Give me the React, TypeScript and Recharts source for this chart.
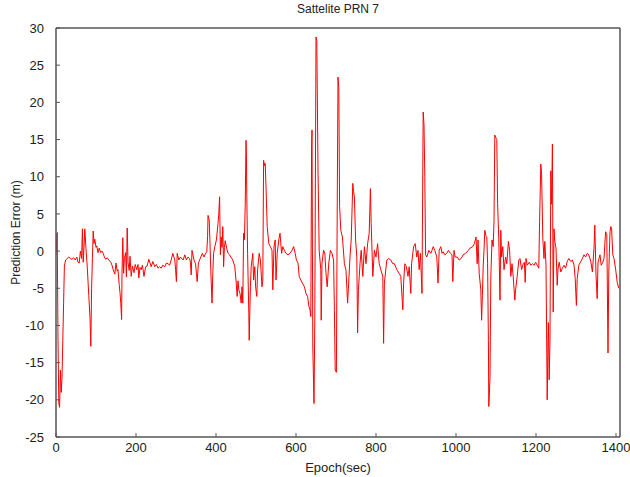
import { Label, Line, LineChart, XAxis, YAxis } from 'recharts'

// epoch (sec) and prediction error (m)
const epochs = [
  0, 3, 5, 7, 9, 11, 13, 15, 17, 19, 21, 24, 28, 32, 36, 40, 44, 48, 52, 55, 58, 61, 64, 66, 68, 70, 72, 75, 78, 82, 85, 87, 89, 91, 93, 95, 97,
  100, 102, 105, 108, 112, 115, 118, 121, 124, 128, 132, 137, 140, 143, 147, 150, 153, 155, 158, 160, 162, 164, 165, 167, 169, 171, 174, 176,
  178, 180, 183, 185, 188, 191, 195, 198, 202, 205, 207, 210, 213, 216, 220, 224, 228, 232, 235, 238, 242, 247, 251, 255, 259, 263, 267, 272,
  276, 280, 284, 288, 292, 297, 299, 301, 303, 307, 311, 318, 322, 326, 330, 334, 336, 338, 340, 345, 349, 351, 353, 356, 362, 366, 370, 374,
  377, 379, 380, 383, 385, 387, 390, 392, 394, 397, 401, 405, 407, 409, 411, 413, 415, 417, 419, 421, 423, 427, 430, 434, 437, 442, 447, 450,
  453, 455, 457, 460, 463, 465, 467, 469, 471, 473, 475, 476, 477, 479, 482, 483, 486, 488, 492, 494, 497, 499, 502, 504, 508, 511, 515, 517,
  519, 521, 523, 525, 528, 532, 536, 540, 542, 545, 548, 550, 553, 557, 560, 564, 567, 571, 575, 580, 585, 590, 594, 598, 601, 605, 608, 612,
  616, 621, 625, 629, 632, 635, 637, 639, 640, 642, 645, 647, 650, 652, 655, 658, 662, 663, 665, 669, 672, 675, 678, 682, 686, 690, 694, 696,
  698, 701, 703, 705, 707, 709, 712, 716, 721, 725, 729, 731, 735, 738, 742, 744, 746, 749, 752, 754, 756, 760, 763, 767, 771, 775, 779, 783,
  786, 788, 792, 796, 800, 804, 808, 812, 817, 819, 821, 827, 832, 837, 842, 846, 852, 858, 862, 867, 869, 872, 876, 880, 883, 887, 889, 894,
  898, 902, 905, 908, 911, 913, 915, 917, 918, 920, 922, 924, 927, 932, 937, 940, 943, 947, 952, 955, 958, 962, 965, 968, 972, 977, 981, 986,
  990, 992, 995, 998, 1003, 1008, 1013, 1018, 1024, 1031, 1035, 1042, 1046, 1050, 1053, 1055, 1058, 1062, 1064, 1066, 1068, 1070, 1072, 1075,
  1077, 1079, 1081, 1082, 1085, 1087, 1090, 1093, 1095, 1097, 1100, 1102, 1104, 1107, 1110, 1112, 1114, 1117, 1120, 1124, 1127, 1131, 1134,
  1137, 1140, 1143, 1147, 1149, 1153, 1157, 1160, 1164, 1168, 1171, 1173, 1175, 1178, 1183, 1187, 1191, 1195, 1199, 1203, 1207, 1209, 1212,
  1214, 1217, 1220, 1222, 1225, 1228, 1230, 1231, 1233, 1235, 1237, 1239, 1241, 1243, 1245, 1247, 1250, 1253, 1255, 1258, 1262, 1266, 1270,
  1274, 1278, 1282, 1287, 1291, 1295, 1298, 1301, 1303, 1307, 1312, 1316, 1320, 1324, 1328, 1332, 1337, 1341, 1345, 1347, 1350, 1353, 1355,
  1360, 1363, 1367, 1370, 1374, 1377, 1380, 1382, 1385, 1387, 1389, 1392, 1395, 1399, 1403, 1407,
]

const errors = [
  -0.5, 2.5, -12, -20.5, -21, -16, -19, -17, -12, -7, -2, -1.2, -1, -0.8, -1, -1.1, -0.9, -1.2, -0.8, -1.5, -1.6, 0, -1, 3, -1.5, 0.5, 3, 0.3,
  -2, -6, -9, -12.8, -5, -1, 2.7, 1, 1.6, 0.5, 0.7, -0.2, 0.4, -0.2, 0, -0.3, -0.8, -1.1, -0.9, -1.2, -1.5, -1.9, -2.5, -3.1, -1.6, -2.7, -2.5,
  -4.5, -5.6, -7, -9.2, -3, 1.8, -3, -1, -0.2, -3.5, 3.1, -1.5, -2.6, -0.7, -3.4, -2, -2.9, -1.8, -2.5, -1.8, -3.6, -2.2, -2.5, -1.9, -3.4, -2.1,
  -2, -1.1, -1.6, -2.1, -1.4, -2.1, -1.8, -2.3, -2.1, -2.3, -1.9, -2.1, -1.6, -1.7, -1.9, -1.2, -0.3, -1.2, -2.5, -4.1, -0.3, -1.2, -0.8, -1.2,
  -0.5, -1.2, -0.8, -1, -1.5, -3.2, 0.1, -1.2, -1.7, -3, -4.1, -1.6, -0.8, -0.3, -0.8, -0.3, -0.1, 2, 4.8, 4.2, 1, -2.6, -7, -3, -0.3, 0.6, 1.5,
  3.7, 5, 7.3, -0.5, 1.9, 0.5, 3.3, -2.1, 0.5, 1.4, 0.3, -0.3, -0.5, -0.8, -1.2, -2.1, -3.9, -6.1, -4, -5.2, -5.7, -7, -4.8, -7, 2.4, 1.5, 6,
  14.9, 13.1, 7.3, -0.3, -8.4, -12, -4.8, -2.1, -0.3, -3.9, -2.1, -4.8, -6.1, -2.5, -0.3, -1.2, -4.8, -3.9, 12.2, 11.5, 11.8, 8.6, 3.3, 1, 0.6,
  0.1, -5.2, 0.6, 1.5, -3.9, -0.3, 1.5, 2.4, -0.3, 0.6, 0.1, -0.3, -0.5, -0.3, 0.1, 0.6, -0.3, -1.2, -1.6, -3.4, -3.9, -4.3, -4.8, -5.7, -6.1,
  -7.4, -7.9, -8.8, 14, 16.3, -12.9, -20.5, -9.3, 28.8, 28.3, 10.9, 0, -2.5, -9.3, -1.6, 0.1, -0.3, -3, -4.8, -1.6, 0.1, -0.3, -1.2, -8, -16,
  -16.3, 5, 23.4, 22, 6, 2.8, 1.9, -1.7, -2.6, -7, -5, -0.8, 1.5, 9.1, 8, 7.3, 1.5, -0.8, -11, -5.3, -1.7, 0.1, -3.4, 0.6, -1.7, 1, 2.4, 8.4,
  3.7, -3.4, 0.1, -0.8, 1, -1.7, -2.5, -3.4, -12.4, -4.3, -1.2, -1, -1.2, -1.7, -1.7, -2.5, -3, -3.4, -7.9, -4.3, -1.7, -2.1, -3.4, -2.1, -5.7,
  -1.7, 0.6, 1, -0.8, 0.1, -2.5, -0.3, -3, -5.7, 11.3, 18.7, 17, 10, -0.5, -0.8, 0.1, -0.3, 0.1, 0.6, 0.1, -0.8, -4.3, 0.1, 0.6, -0.3, -0.1,
  -0.5, -0.3, 0.1, -0.3, -0.5, -4.1, 0.1, -0.8, -0.8, -1.2, -1, -0.5, -0.3, 0.1, 0.4, 0.6, 1, 1.9, -1.7, 1.5, -3, -5.2, -9.3, -6, -2, 0.1, 2.8,
  2, 1.9, -1.7, -12, -20.9, -17, -3.5, 1.5, 0.6, 4, 15.6, 15.2, 15, 6.4, 1.5, -6.6, 2.8, -0.8, 0.6, -2.5, -0.8, -1.7, 1.3, 0.1, -3.4, -1.7,
  -3.4, -6.6, -5.2, -3.4, -1.2, -1, -2.5, -1.7, -1.5, -4.2, -1, -1.9, -1.5, -1.9, -1.7, -1.9, -1.5, -1.9, -2.3, 4, 11.7, 10.3, 1.7, -1, 1.3,
  -1.9, -20, -12, -9.6, -17.3, -11.8, 10.8, 6.3, 14.4, -8.2, 3, 1.3, 0.4, -4.6, -2.4, -1.5, -2.8, -2.3, -1.9, -2.3, -1.4, -1, -1.4, -1.2, -1.9,
  -3.7, -7.3, -3.7, -1.9, -1.4, -1, -0.5, -0.8, -0.3, -0.5, -1.4, -2.8, 0.4, 3.5, -3.2, -6.4, -1.5, -0.5, -1.9, -1.5, -1, 2.6, 2.2, -13.7, -2.8,
  2.6, 3.3, 3, -0.5, -1, -2.4, -4.2, -5,
]

const xTicks = [0, 200, 400, 600, 800, 1000, 1200, 1400]
const yTicks = [-25, -20, -15, -10, -5, 0, 5, 10, 15, 20, 25, 30]

const rows = epochs.map((epoch, i) => ({ epoch, error: errors[i] }))

const FONT = '"Liberation Sans", Arial, sans-serif'
const AXIS = '#555'
const tickStyle = { fill: '#222', fontSize: 13, fontFamily: FONT }

export default function App() {
  return (
    <div style={{ position: 'absolute', left: 0, top: 0, width: 630, height: 477, background: '#fff' }}>
      <div
        style={{
          position: 'absolute',
          top: 2,
          left: 56,
          width: 564,
          textAlign: 'center',
          fontFamily: FONT,
          fontSize: 12,
          color: '#222',
        }}
      >
        Sattelite PRN 7
      </div>
      <LineChart width={630} height={477} data={rows} margin={{ top: 27, right: 9, bottom: 0, left: 0 }}>
        <XAxis
          xAxisId="b"
          dataKey="epoch"
          type="number"
          domain={[0, 1410]}
          ticks={xTicks}
          allowDataOverflow
          height={40}
          tickSize={-4}
          tickMargin={10}
          tick={tickStyle}
          axisLine={{ stroke: AXIS, strokeWidth: 1.5 }}
          tickLine={{ stroke: AXIS }}
        >
          <Label value="Epoch(sec)" position="insideBottom" offset={5} style={{ fill: '#222', fontSize: 13, fontFamily: FONT }} />
        </XAxis>
        <XAxis
          xAxisId="t"
          orientation="top"
          dataKey="epoch"
          type="number"
          domain={[0, 1410]}
          ticks={xTicks}
          allowDataOverflow
          height={1}
          tickSize={-4}
          tick={false}
          axisLine={{ stroke: AXIS, strokeWidth: 1.5 }}
          tickLine={{ stroke: AXIS }}
        />
        <YAxis
          yAxisId="l"
          type="number"
          domain={[-25, 30]}
          ticks={yTicks}
          allowDataOverflow
          width={56}
          tickSize={-4}
          tickMargin={16}
          tick={tickStyle}
          axisLine={{ stroke: AXIS, strokeWidth: 1.5 }}
          tickLine={{ stroke: AXIS }}
        >
          <Label
            value="Prediction Error (m)"
            angle={-90}
            position="center"
            dx={-12}
            style={{ fill: '#222', fontSize: 12, fontFamily: FONT }}
          />
        </YAxis>
        <YAxis
          yAxisId="r"
          orientation="right"
          type="number"
          domain={[-25, 30]}
          ticks={yTicks}
          allowDataOverflow
          width={1}
          tickSize={-4}
          tick={false}
          axisLine={{ stroke: AXIS, strokeWidth: 1.5 }}
          tickLine={{ stroke: AXIS }}
        />
        <Line
          xAxisId="b"
          yAxisId="l"
          dataKey="error"
          type="linear"
          stroke="#ff0000"
          strokeWidth={1}
          dot={false}
          isAnimationActive={false}
        />
      </LineChart>
    </div>
  )
}
